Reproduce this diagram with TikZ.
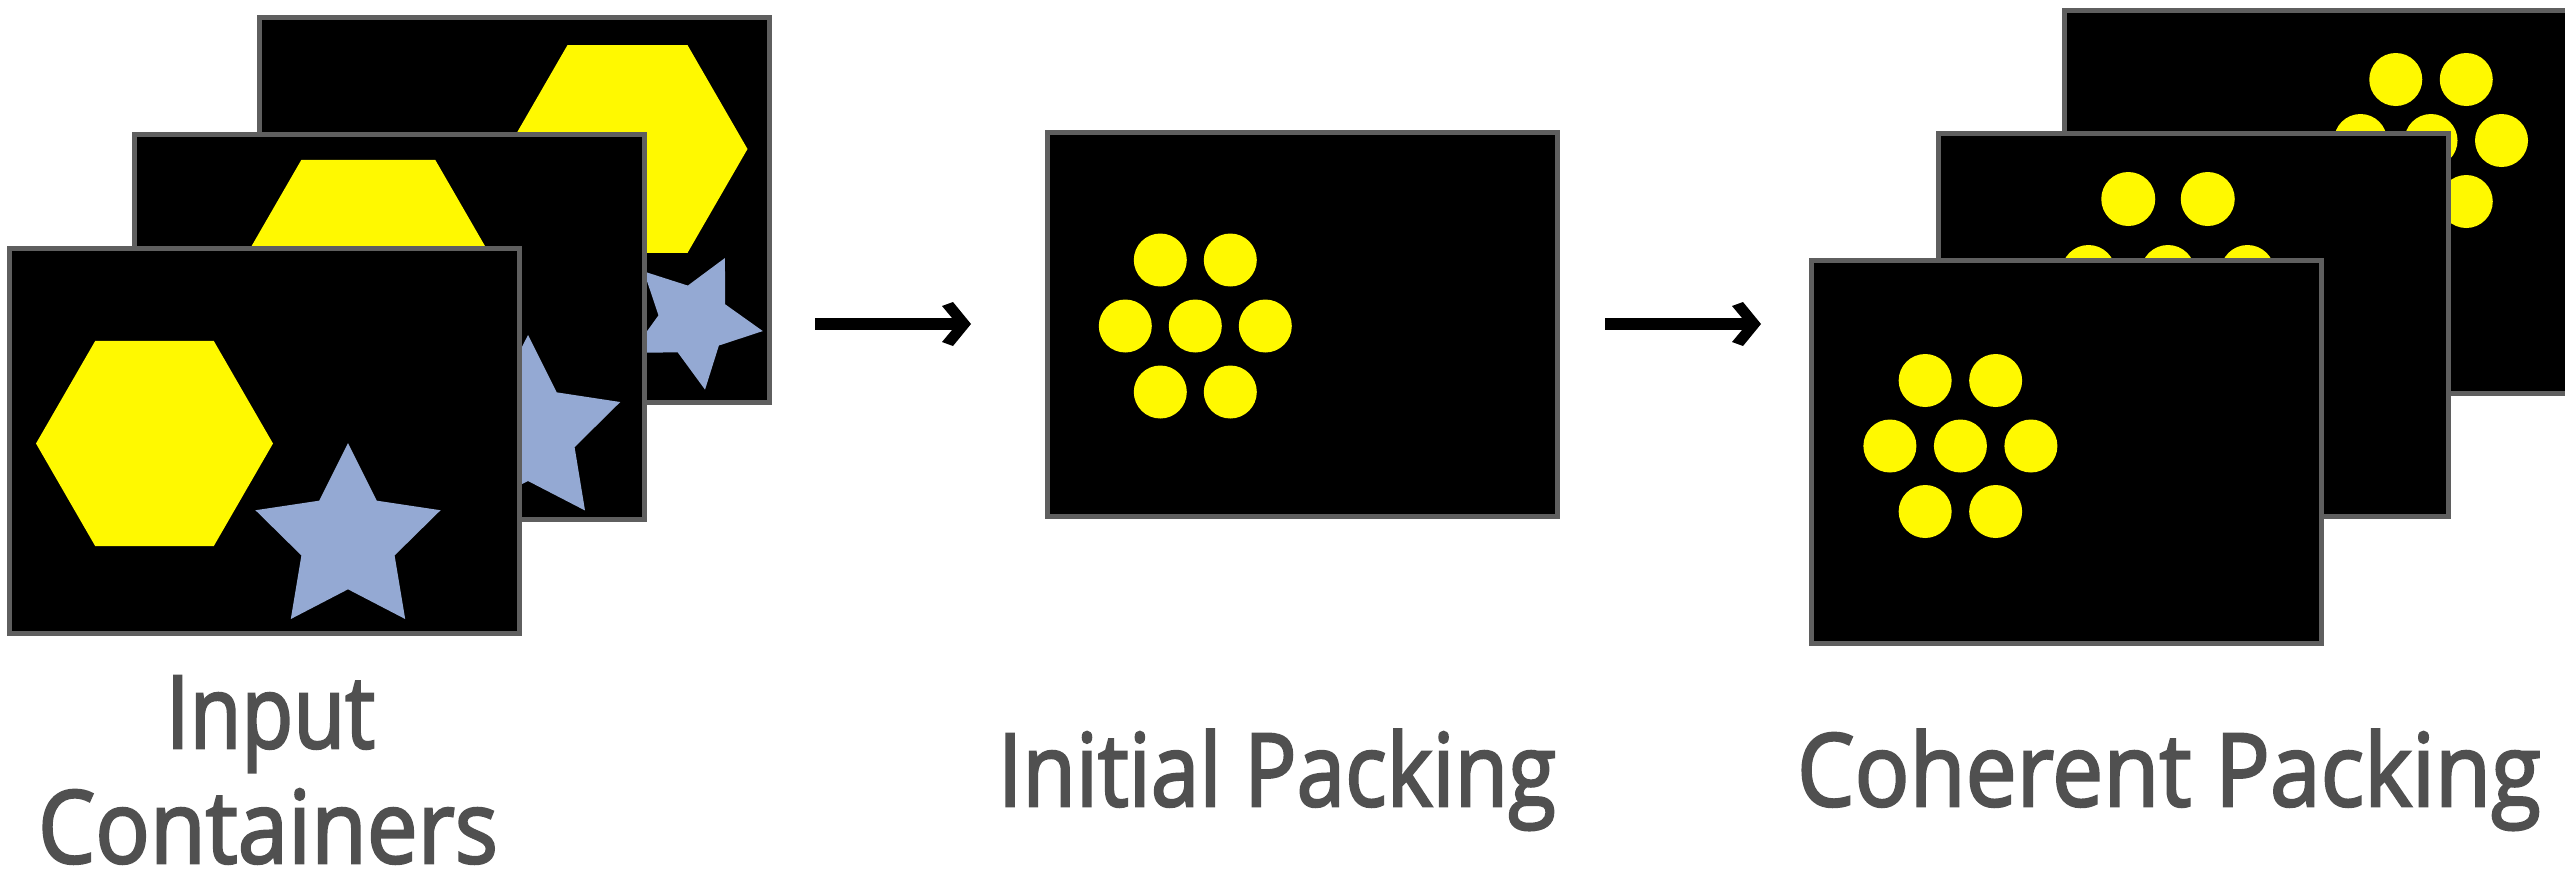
\documentclass[tikz,border=0pt]{standalone}
\usepackage{fontspec}
\setmainfont{Open Sans}
\newfontfamily\capfont[FakeBold=2.5]{Open Sans}
\usepackage{graphicx}

\definecolor{shapeyellow}{RGB}{255,249,0}
\definecolor{starblue}{RGB}{148,169,211}
\definecolor{framegray}{RGB}{95,95,95}
\definecolor{labelgray}{RGB}{80,80,80}

% regular hexagon with flat top/bottom: centre (#1,#2), radius #3
\newcommand{\drawhex}[3]{%
  \fill[hexfill] ({#1+#3},{#2})
    \foreach \a in {60,120,180,240,300} { -- ({#1+#3*cos(\a)},{#2-#3*sin(\a)}) } -- cycle;}
% five-point star: centre (#1,#2), outer radius #3, inner radius #4, first point at angle #5
\newcommand{\drawstar}[5]{%
  \fill[starfill] ({#1+#3*cos(#5)},{#2-#3*sin(#5)})
    \foreach \j in {0,...,4} {
      -- ({#1+#4*cos(#5+36+72*\j)},{#2-#4*sin(#5+36+72*\j)})
      -- ({#1+#3*cos(#5+72+72*\j)},{#2-#3*sin(#5+72+72*\j)}) } -- cycle;}
% seven discs in a hexagonal cluster: centre (#1,#2), spacing #3 x #4, radius #5
\newcommand{\drawpack}[5]{%
  \foreach \u/\v in {-0.5/-1,0.5/-1,-1/0,0/0,1/0,-0.5/1,0.5/1}
    \fill[disc] ({#1+\u*#3},{#2+\v*#4}) circle[radius=#5pt];}
% thick arrow: shaft from #1, chevron head with its point at #2
\newcommand{\flowarrow}[2]{%
  \draw[flow] (#1) -- ([xshift=-12pt]#2);
  \fill[flowhead] ([xshift=-29pt,yshift=18pt]#2) -- ([xshift=-18pt,yshift=22pt]#2)
    -- (#2) -- ([xshift=-18pt,yshift=-22pt]#2) -- ([xshift=-29pt,yshift=-18pt]#2)
    -- ([xshift=-14pt]#2) -- cycle;}

\tikzset{
  frame/.style={draw=framegray, line width=5pt, fill=black,
    minimum width=510pt, minimum height=385pt, inner sep=0pt, outer sep=0pt},
  hexfill/.style={fill=shapeyellow},
  starfill/.style={fill=starblue},
  disc/.style={fill=shapeyellow},
  flow/.style={line width=11.7pt, line cap=butt, draw=black},
  flowhead/.style={fill=black},
  caption/.style={text=labelgray, anchor=base, inner sep=0pt,
    font=\capfont\fontsize{101}{120}\selectfont}
}

\begin{document}
\begin{tikzpicture}[x=1pt, y=-1pt]
\useasboundingbox (0,0) rectangle (2565,876);
\clip (0,0) rectangle (2565,876);
\fill[white] (0,0) rectangle (2565,876);

% ---- input containers (back to front) ----
\node[frame] (inback) at (514,209.5) {};
\begin{scope}
  \clip (inback.south west) rectangle (inback.north east);
  \drawhex{627.5}{149}{120}
  \drawstar{693.6}{320.6}{70}{35.5}{63.4}
\end{scope}
\node[frame] (inmid) at (389,326.5) {};
\begin{scope}
  \clip (inmid.south west) rectangle (inmid.north east);
  \drawhex{368.3}{276}{134}
  \drawstar{528}{432}{97}{49}{90}
\end{scope}
\node[frame] (infront) at (264.5,441) {};
\begin{scope}
  \clip (infront.south west) rectangle (infront.north east);
  \drawhex{154.5}{443.5}{118.5}
  \drawstar{348}{540.3}{97.3}{49}{90}
\end{scope}

% ---- initial packing ----
\node[frame, minimum height=384pt] (initial) at (1302,324.5) {};
\drawpack{1195.3}{326}{70}{66}{26.5}

% ---- coherent packing (back to front) ----
\node[frame, minimum height=383pt] (coback) at (2319,202) {};
\drawpack{2431}{140.5}{70.5}{61}{26.5}
\node[frame, minimum height=383pt] (comid) at (2193,325) {};
\begin{scope}
  \clip (comid.south west) rectangle (comid.north east);
  \drawpack{2168}{272}{79.5}{73}{27}
\end{scope}
\node[frame, minimum height=383pt] (cofront) at (2066,452) {};
\drawpack{1960.4}{446}{70.5}{65.5}{26.5}

% ---- arrows ----
\coordinate (a1s) at (815,324);
\coordinate (a1e) at (971,324);
\coordinate (a2s) at (1605,324);
\coordinate (a2e) at (1761,324);
\flowarrow{a1s}{a1e}
\flowarrow{a2s}{a2e}

% ---- captions ----
\node[caption] (lbinput) at (270.5,748) {\resizebox{209pt}{\height}{Input}};
\node[caption] (lbcont) at (268,863) {\resizebox{460pt}{\height}{Containers}};
\node[caption] (lbinit) at (1277,806) {\resizebox{558pt}{\height}{Initial Packing}};
\node[caption] (lbcoh) at (2169,806) {\resizebox{744pt}{\height}{Coherent Packing}};
\end{tikzpicture}
\end{document}
